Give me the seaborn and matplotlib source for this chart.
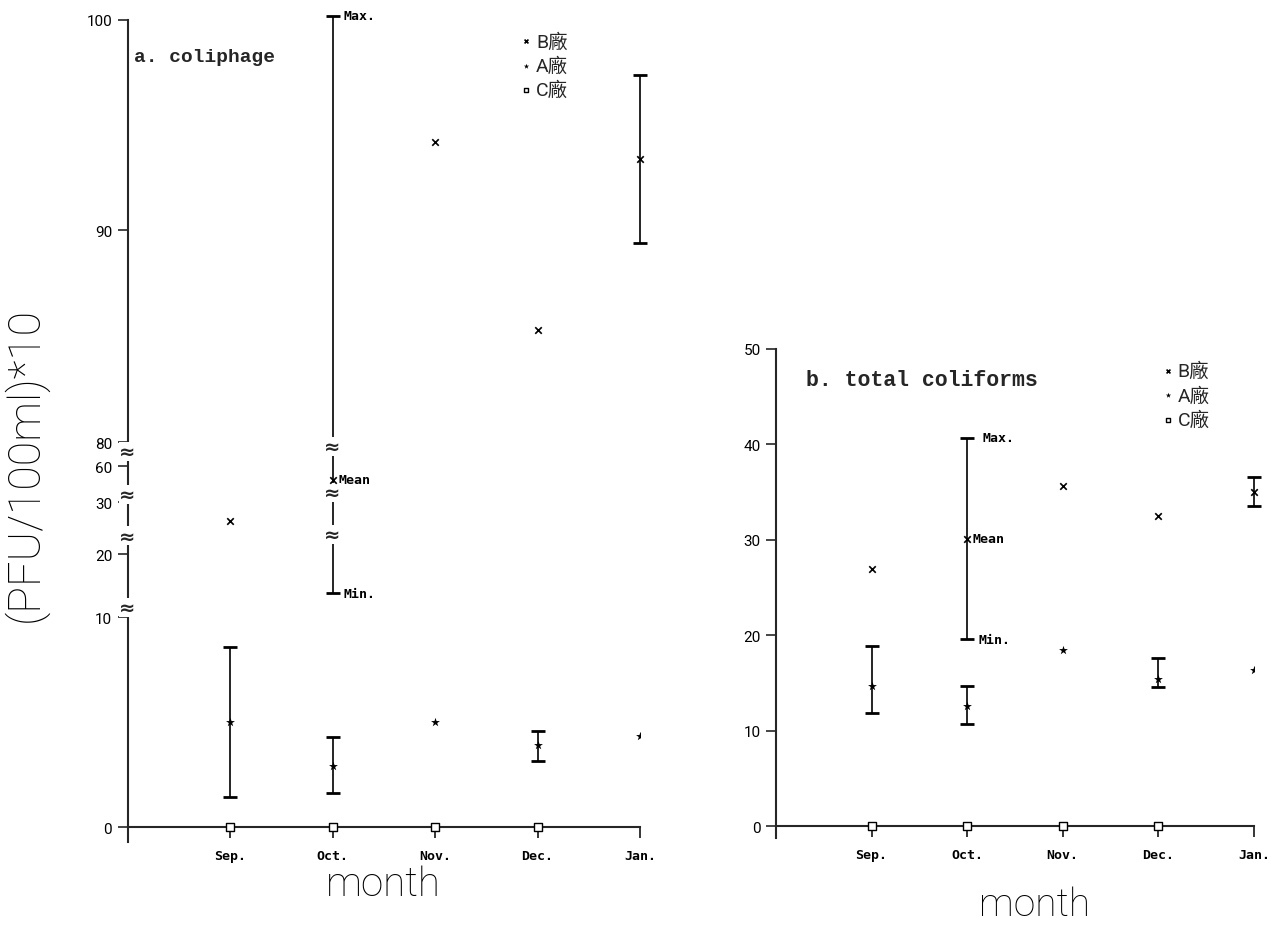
import numpy as np
import pandas as pd
import seaborn as sns
import matplotlib.pyplot as plt

nan = np.nan

months = ['Sep.', 'Oct.', 'Nov.', 'Dec.', 'Jan.']
month_pos = [1, 2, 3, 4, 5]
plants = ['B廠', 'A廠', 'C廠']

# a. coliphage  (PFU/100ml)*10 : mean, min, max per month
phage_B = [26.4, 48.6, 94.2, 85.3, 93.4]
phage_B_min = [nan, 13.8, nan, nan, 89.4]
phage_B_max = [nan, 100.2, nan, nan, 97.4]
phage_A = [5.0, 2.9, 5.0, 3.9, 4.35]
phage_A_min = [1.45, 1.65, nan, 3.15, nan]
phage_A_max = [8.6, 4.3, nan, 4.6, nan]
phage_C = [0, 0, 0, 0, nan]

# b. total coliforms
coli_B = [26.9, 30.1, 35.6, 32.5, 35.0]
coli_B_min = [nan, 19.6, nan, nan, 33.5]
coli_B_max = [nan, 40.7, nan, nan, 36.6]
coli_A = [14.7, 12.6, 18.5, 15.4, 16.4]
coli_A_min = [11.9, 10.7, nan, 14.6, nan]
coli_A_max = [18.9, 14.7, nan, 17.6, nan]
coli_C = [0, 0, 0, 0, nan]

phage_ticks = [0, 10, 20, 30, 60, 80, 90, 100]
coli_ticks = [0, 10, 20, 30, 40, 50]
phage_axis_breaks = [11.6, 23.5, 36.7, 72.5]
phage_bar_breaks = [23.8, 38.3, 76.7]

sns.set_style('ticks')
plt.rcParams['font.family'] = ['Roboto', 'Noto Sans CJK TC', 'DejaVu Sans']
plt.rcParams['axes.linewidth'] = 1.5

# broken y scale of panel a (piecewise linear)
knots_v = [-100, 0, 10, 20, 30, 60, 80, 90, 100, 200]
knots_p = [-2100, 0, 210, 273, 325, 361, 385, 597, 807, 2807]


def fwd(v):
    return np.interp(v, knots_v, knots_p)


def inv(p):
    return np.interp(p, knots_p, knots_v)


mono = dict(family='DejaVu Sans Mono', weight='bold', size=9.5, color='black')
thin = dict(family='Roboto', weight='light', color='black')
leg_font = dict(family=['Roboto', 'Noto Sans CJK TC'], size=14)


def panel(ax, B, Bmin, Bmax, A, Amin, Amax, C, ticks, title, title_xy,
          title_size, leg_anchor, offsets):
    df = pd.DataFrame({'month': month_pos, 'B': B, 'Bmin': Bmin, 'Bmax': Bmax,
                       'A': A, 'Amin': Amin, 'Amax': Amax, 'C': C})
    for col in ['B', 'A']:
        sub = df.dropna(subset=[col + 'min'])
        ax.errorbar(sub['month'], sub[col],
                    yerr=[sub[col] - sub[col + 'min'], sub[col + 'max'] - sub[col]],
                    fmt='none', ecolor='black', elinewidth=1.2, capsize=5,
                    capthick=2, clip_on=False, zorder=3)
    sns.scatterplot(data=df, x='month', y='B', marker='x', s=22, color='black',
                    linewidth=1.2, label=plants[0], ax=ax, zorder=7, clip_on=False)
    sns.scatterplot(data=df, x='month', y='A', marker='*', s=45, color='black',
                    linewidth=0, label=plants[1], ax=ax, zorder=4)
    sns.scatterplot(data=df, x='month', y='C', marker='s', s=28, facecolor='white',
                    edgecolor='black', linewidth=1, label=plants[2], ax=ax,
                    zorder=5, clip_on=False)

    ax.spines['top'].set_visible(False)
    ax.spines['right'].set_visible(False)
    ax.spines['bottom'].set_position(('data', 0))
    ax.set_xlim(0, 5)
    ax.set_xticks(month_pos)
    ax.set_xticklabels(months, **mono)
    ax.set_yticks(ticks)
    ax.set_yticklabels([str(t) for t in ticks], family='Roboto', size=11,
                       color='black')
    ax.tick_params(axis='x', direction='out', length=8, width=1.3, pad=8)
    ax.tick_params(axis='y', direction='out', length=7, width=1.2, pad=4)
    ax.set_xlabel('')
    ax.set_ylabel('')

    ax.text(title_xy[0], title_xy[1], title, transform=ax.transAxes,
            family='Liberation Mono', weight='bold', size=title_size, va='center')

    # Max./Mean/Min. labels on the Oct. B bar
    for val, lab, dx in zip([Bmax[1], B[1], Bmin[1]], ['Max.', 'Mean', 'Min.'], offsets):
        ax.annotate(lab, xy=(month_pos[1], val), xytext=(dx, 0),
                    textcoords='offset points', va='center',
                    annotation_clip=False, **mono)

    ax.legend(loc='upper left', bbox_to_anchor=leg_anchor, frameon=False,
              handletextpad=0.15, labelspacing=0.3, handlelength=0.7,
              markerscale=0.6, prop=leg_font, borderaxespad=0)


fig = plt.figure(figsize=(12.79, 9.29), dpi=100)
ax1 = fig.add_axes([0.0997, 0.0926, 0.4007, 0.8848])
ax2 = fig.add_axes([0.6067, 0.0969, 0.3737, 0.5264])

ax1.set_yscale('function', functions=(fwd, inv))
panel(ax1, phage_B, phage_B_min, phage_B_max, phage_A, phage_A_min, phage_A_max,
      phage_C, phage_ticks, 'a. coliphage', (0.012, 0.956), 14,
      (0.75, 0.995), [8, 4, 8])
ax1.set_ylim(-0.7, 100)

brk = dict(ha='center', va='center', fontsize=14, weight='bold', zorder=6,
           clip_on=False, family='DejaVu Sans',
           bbox=dict(facecolor='white', edgecolor='none', pad=0))
for b in phage_axis_breaks:
    ax1.text(0, b, '≈', **brk)
for b in phage_bar_breaks:
    ax1.text(month_pos[1], b, '≈', **brk)

panel(ax2, coli_B, coli_B_min, coli_B_max, coli_A, coli_A_min, coli_A_max,
      coli_C, coli_ticks, 'b. total coliforms', (0.063, 0.937), 15.5,
      (0.79, 0.99), [11, 4, 8])
ax2.set_ylim(-1.25, 50)

fig.text(383 / 1279, 1 - 885 / 929, 'month', ha='center', va='center',
         size=29, **thin)
fig.text(1035 / 1279, 1 - 905 / 929, 'month', ha='center', va='center',
         size=28, **thin)
fig.text(25 / 1279, 1 - 465 / 929, '(PFU/100ml)*10', ha='center', va='center',
         rotation=90, size=32, **thin)

fig.savefig('out.png', dpi=100, facecolor='white')
